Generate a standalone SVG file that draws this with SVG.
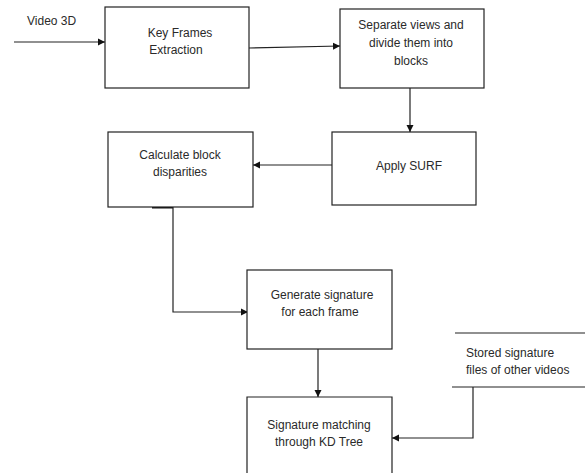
<svg xmlns="http://www.w3.org/2000/svg" width="585" height="473" viewBox="0 0 585 473">
<style>
.box{fill:#fff;stroke:#222;stroke-width:1.2}
.ln{fill:none;stroke:#222;stroke-width:1.2}
text{font-family:"Liberation Sans",Arial,sans-serif;font-size:12px;fill:#2a2a2a}
.c{text-anchor:middle}
</style>
<defs>
<marker id="ah" markerWidth="8" markerHeight="8" refX="7" refY="4" orient="auto" markerUnits="userSpaceOnUse">
<path d="M0,0.5 L7,4 L0,7.5 Z" fill="#111"/>
</marker>
</defs>
<rect width="585" height="473" fill="#fff"/>
<g id="connectors">
<line class="ln" x1="14" y1="42" x2="105" y2="42" marker-end="url(#ah)"/>
<line class="ln" x1="249" y1="48" x2="340" y2="46" marker-end="url(#ah)"/>
<line class="ln" x1="410" y1="88" x2="410" y2="132" marker-end="url(#ah)"/>
<line class="ln" x1="332" y1="165" x2="253" y2="165" marker-end="url(#ah)"/>
<line x1="152" y1="207.5" x2="173" y2="207.5" stroke="#111" stroke-width="2"/>
<polyline class="ln" points="173,207 173,312 248,312" marker-end="url(#ah)"/>
<line class="ln" x1="318" y1="349" x2="318" y2="397" marker-end="url(#ah)"/>
<polyline class="ln" points="473,387 473,438 392,438" marker-end="url(#ah)"/>
</g>
<g id="input"><text x="27" y="25">Video 3D</text></g>
<g id="keyframes">
<rect class="box" x="105" y="7" width="144" height="81"/>
<text class="c" x="180" y="37">Key Frames</text>
<text class="c" x="176" y="54">Extraction</text>
</g>
<g id="separate">
<rect class="box" x="340" y="9" width="144" height="79"/>
<text class="c" x="411" y="29">Separate views and</text>
<text class="c" x="411" y="47">divide them into</text>
<text class="c" x="411" y="65">blocks</text>
</g>
<g id="surf">
<rect class="box" x="332" y="132" width="144" height="73"/>
<text class="c" x="409" y="170">Apply SURF</text>
</g>
<g id="calculate">
<rect class="box" x="108" y="132" width="145" height="75"/>
<text class="c" x="180" y="159">Calculate block</text>
<text class="c" x="180" y="176">disparities</text>
</g>
<g id="generate">
<rect class="box" x="247" y="270" width="145" height="79"/>
<text class="c" x="322" y="299">Generate signature</text>
<text class="c" x="320" y="316">for each frame</text>
</g>
<g id="matching">
<path class="ln" d="M247,473 V397 H392 V473"/>
<text class="c" x="319" y="429">Signature matching</text>
<text class="c" x="319" y="446">through KD Tree</text>
</g>
<g id="store">
<line class="ln" x1="455" y1="333" x2="585" y2="333"/>
<line class="ln" x1="452" y1="387" x2="585" y2="387"/>
<text x="466" y="357">Stored signature</text>
<text x="466" y="374">files of other videos</text>
</g>
</svg>
